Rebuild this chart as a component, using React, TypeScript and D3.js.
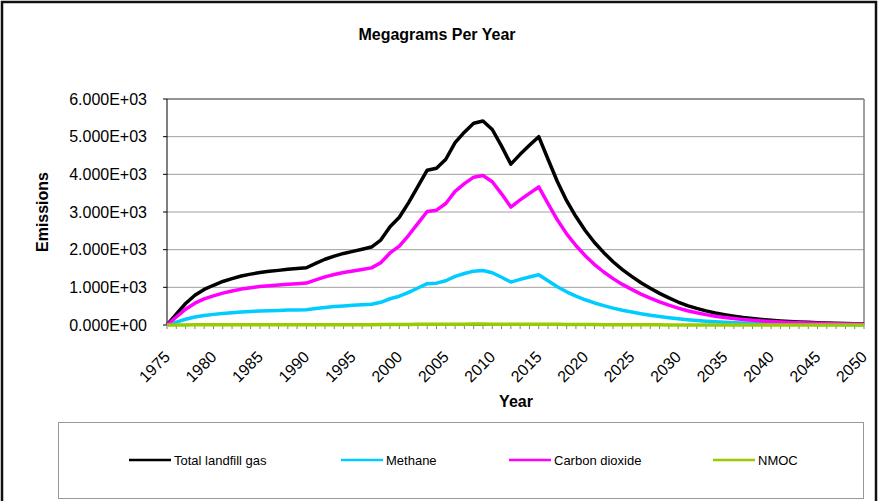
import React from "react";
import * as d3 from "d3";

const years: number[] = d3.range(1975, 2051);

const totalGas = [
  0, 290, 570, 790, 945, 1055, 1155, 1230, 1300, 1350,
  1395, 1425, 1450, 1478, 1497, 1520, 1635, 1745, 1830, 1900,
  1955, 2010, 2070, 2256, 2610, 2860, 3250, 3680, 4110, 4160,
  4400, 4840, 5120, 5355, 5415, 5190, 4750, 4270, 4530, 4770,
  5000, 4400, 3810, 3300, 2880, 2510, 2190, 1920, 1680, 1470,
  1290, 1120, 975, 840, 720, 610, 515, 440, 375, 320,
  275, 235, 200, 172, 148, 127, 109, 94, 81, 70,
  60, 52, 45, 39, 33, 29,
];

const methane = [
  0, 77, 152, 211, 252, 282, 308, 328, 347, 360,
  372, 380, 387, 395, 400, 406, 437, 466, 489, 507,
  522, 537, 553, 602, 697, 764, 868, 983, 1097, 1111,
  1175, 1292, 1367, 1430, 1446, 1386, 1268, 1140, 1210, 1274,
  1335, 1175, 1017, 881, 769, 670, 585, 513, 449, 392,
  344, 299, 260, 224, 192, 163, 138, 117, 100, 85,
  73, 63, 53, 46, 40, 34, 29, 25, 22, 19,
  16, 14, 12, 10, 9, 8,
];

const carbonDioxide = [
  0, 213, 418, 579, 693, 773, 847, 902, 953, 990,
  1023, 1045, 1063, 1083, 1097, 1114, 1198, 1279, 1341, 1393,
  1433, 1473, 1517, 1654, 1913, 2096, 2382, 2697, 3013, 3049,
  3225, 3548, 3753, 3925, 3969, 3804, 3482, 3130, 3320, 3496,
  3665, 3225, 2793, 2419, 2111, 1840, 1605, 1407, 1231, 1078,
  946, 821, 715, 616, 528, 447, 377, 323, 275, 235,
  202, 172, 147, 126, 108, 93, 80, 69, 59, 51,
  44, 38, 33, 29, 24, 21,
];

const nmoc = [
  0, 1, 3, 4, 4, 5, 5, 6, 6, 6,
  6, 6, 7, 7, 7, 7, 7, 8, 8, 8,
  9, 9, 9, 10, 12, 13, 15, 17, 18, 19,
  20, 22, 23, 24, 24, 23, 21, 19, 20, 21,
  22, 20, 17, 15, 13, 11, 10, 9, 8, 7,
  6, 5, 4, 4, 3, 3, 2, 2, 2, 1,
  1, 1, 1, 1, 1, 0, 0, 0, 0, 0,
  0, 0, 0, 0, 0, 0,
];

const seriesNames = ["Total landfill gas", "Methane", "Carbon dioxide", "NMOC"];
const seriesColors = ["#000000", "#00CCFF", "#FF00FF", "#99CC00"];
const seriesData = [totalGas, methane, carbonDioxide, nmoc];

const yTicks = [0, 1000, 2000, 3000, 4000, 5000, 6000];
const xLabelYears = [1975, 1980, 1985, 1990, 1995, 2000, 2005, 2010, 2015, 2020, 2025, 2030, 2035, 2040, 2045, 2050];

const FONT = "'Liberation Sans', Arial, sans-serif";

function fmtE(v: number): string {
  const [m, e] = v.toExponential(3).split("e");
  const sign = e[0] === "-" ? "-" : "+";
  const digits = e.replace(/[+-]/, "").padStart(2, "0");
  return `${m}E${sign}${digits}`;
}

export default function App() {
  const W = 878;
  const H = 501;
  const left = 167;
  const right = 864;
  const top = 99;
  const bottom = 325;

  const x = d3.scaleLinear().domain([1975, 2050]).range([left, right]);
  const y = d3.scaleLinear().domain([0, 6000]).range([bottom, top]);

  const line = d3
    .line<number>()
    .x((_, i) => x(years[i]))
    .y((d) => y(d));

  const legendX = [129, 341, 509, 713];

  return (
    <svg
      width={W}
      height={H}
      style={{ position: "absolute", left: 0, top: 0, display: "block", background: "#fff" }}
      fontFamily={FONT}
    >
      <rect x={0} y={0} width={W} height={H} fill="#fff" />
      {/* outer chart border */}
      <rect x={2} y={2} width={874} height={520} fill="none" stroke="#111" strokeWidth={2.5} />

      {/* title */}
      <text x={437} y={40} textAnchor="middle" fontSize={16} fontWeight="bold" fill="#000">
        Megagrams Per Year
      </text>

      {/* gridlines */}
      {yTicks.map((t) => (
        <line key={"g" + t} x1={left} x2={right} y1={y(t)} y2={y(t)} stroke="#A0A0A0" strokeWidth={1} />
      ))}
      {/* plot border top/right */}
      <line x1={left} x2={right} y1={top} y2={top} stroke="#808080" strokeWidth={1.5} />
      <line x1={right} x2={right} y1={top} y2={bottom} stroke="#808080" strokeWidth={1.5} />

      {/* y axis */}
      <line x1={left} x2={left} y1={top} y2={bottom} stroke="#000" strokeWidth={1} />
      {yTicks.map((t) => (
        <g key={"yt" + t}>
          <line x1={left - 4} x2={left} y1={y(t)} y2={y(t)} stroke="#000" strokeWidth={1} />
          <text x={147} y={y(t)} dy="0.35em" textAnchor="end" fontSize={16} fill="#000">
            {fmtE(t)}
          </text>
        </g>
      ))}
      <text
        transform={`translate(48, ${(top + bottom) / 2}) rotate(-90)`}
        textAnchor="middle"
        fontSize={16}
        fontWeight="bold"
        fill="#000"
      >
        Emissions
      </text>

      {/* x axis */}
      <line x1={left} x2={right} y1={bottom} y2={bottom} stroke="#000" strokeWidth={1} />
      {years.map((yr) => (
        <line key={"xt" + yr} x1={x(yr)} x2={x(yr)} y1={bottom} y2={bottom + 4} stroke="#808080" strokeWidth={1} />
      ))}
      {xLabelYears.map((yr) => (
        <text
          key={"xl" + yr}
          transform={`translate(${x(yr) + 4}, 358) rotate(-45)`}
          textAnchor="end"
          fontSize={16}
          fill="#000"
        >
          {yr}
        </text>
      ))}
      <text x={516} y={407} textAnchor="middle" fontSize={16} fontWeight="bold" fill="#000">
        Year
      </text>

      {/* series */}
      {seriesData.map((d, i) => (
        <path
          key={"s" + i}
          d={line(d) || ""}
          fill="none"
          stroke={seriesColors[i]}
          strokeWidth={3.5}
          strokeLinejoin="round"
        />
      ))}

      {/* legend */}
      <rect x={58.5} y={422.5} width={805} height={76} fill="#fff" stroke="#999" strokeWidth={1} />
      {seriesNames.map((name, i) => (
        <g key={"lg" + i}>
          <line x1={legendX[i]} x2={legendX[i] + 42} y1={460} y2={460} stroke={seriesColors[i]} strokeWidth={2.5} />
          <text x={legendX[i] + 45} y={460} dy="0.35em" fontSize={13} fill="#000">
            {name}
          </text>
        </g>
      ))}
    </svg>
  );
}
